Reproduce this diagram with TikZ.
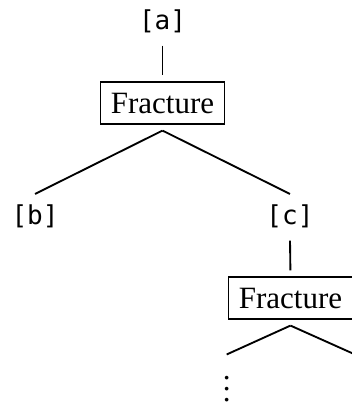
\documentclass[tikz,border=0pt]{standalone}
\usepackage{fontspec}
\setmainfont{Liberation Serif}
\setmonofont[Scale=MatchLowercase]{DejaVu Sans Mono}
\begin{document}
\begin{tikzpicture}[x=0.32258pt,y=-0.32258pt,
  every node/.style={font=\fontsize{10pt}{12pt}\selectfont},
  leaf/.style={font=\fontsize{10pt}{12pt}\selectfont\ttfamily, inner sep=3.333pt},
  frac/.style={draw, line width=0.6pt, inner sep=3.333pt},
  dotsnode/.style={anchor=base, inner xsep=0pt, inner ysep=6.8pt},
  edge/.style={line width=0.6pt}]
\useasboundingbox (0,0) rectangle (352,402);
\node[leaf] (a) at (162.5,21.5) {[a]};
\node[frac] (F1) at (162.5,103) {Fracture};
\node[leaf] (b) at (35,216.5) {[b]};
\node[leaf] (c) at (290,216.5) {[c]};
\node[frac] (F2) at (290.5,298) {Fracture};
\node[dotsnode] (d1) at (226.7,401.7) {\vbox{\baselineskip3.6pt\lineskiplimit0pt\hbox{.}\hbox{.}\hbox{.}}};
\node[dotsnode] (d2) at (355,401.7) {\vbox{\baselineskip3.6pt\lineskiplimit0pt\hbox{.}\hbox{.}\hbox{.}}};
\coordinate (ap1) at ([yshift=-1.94pt]F1.south);
\coordinate (ap2) at ([yshift=-1.94pt]F2.south);
\draw[edge, shorten <=0.5pt, shorten >=1.94pt] (a.south) -- (F1.north);
\draw[edge] (ap1) -- (b.north);
\draw[edge] (ap1) -- (c.north);
\draw[edge, shorten <=0.5pt, shorten >=1.94pt] (c.south) -- (F2.north);
\draw[edge] (ap2) -- (d1.north);
\draw[edge] (ap2) -- (d2.north);
\end{tikzpicture}
\end{document}
